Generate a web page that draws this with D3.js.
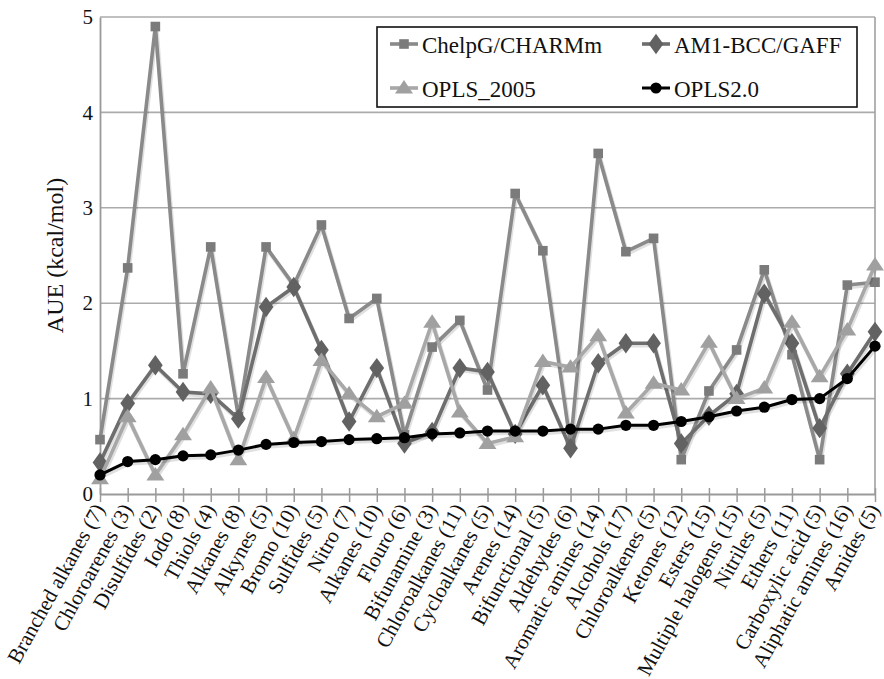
<!DOCTYPE html>
<html>
<head>
<meta charset="utf-8">
<script src="https://cdn.jsdelivr.net/npm/d3@7/dist/d3.min.js"></script>
<style>
  html, body { margin: 0; padding: 0; background: #fff; }
  svg { display: block; }
</style>
</head>
<body>
<svg id="chart" width="884" height="679" font-family="Liberation Serif" style="font-family: 'Liberation Serif'"></svg>
<script>
// Functional groups (number of compounds in parentheses)
const categories = [
  "Branched alkanes (7)", "Chloroarenes (3)", "Disulfides (2)", "Iodo (8)", "Thiols (4)",
  "Alkanes (8)", "Alkynes (5)", "Bromo (10)", "Sulfides (5)", "Nitro (7)",
  "Alkanes (10)", "Flouro (6)", "Bifunamine (3)", "Chloroalkanes (11)", "Cycloalkanes (5)",
  "Arenes (14)", "Bifunctional (5)", "Aldehydes (6)", "Aromatic amines (14)", "Alcohols (17)",
  "Chloroalkenes (5)", "Ketones (12)", "Esters (15)", "Multiple halogens (15)", "Nitriles (5)",
  "Ethers (11)", "Carboxylic acid (5)", "Aliphatic amines (16)", "Amides (5)"
];

// Average unsigned error (kcal/mol) per force field
const chelpgCharmm = [0.57, 2.37, 4.90, 1.26, 2.59, 0.81, 2.59, 2.19, 2.82, 1.84,
                      2.05, 0.62, 1.54, 1.82, 1.09, 3.15, 2.55, 0.52, 3.57, 2.54,
                      2.68, 0.36, 1.08, 1.51, 2.35, 1.46, 0.36, 2.19, 2.22];
const am1BccGaff   = [0.33, 0.95, 1.35, 1.07, 1.05, 0.79, 1.96, 2.17, 1.51, 0.76,
                      1.32, 0.53, 0.65, 1.32, 1.28, 0.63, 1.14, 0.48, 1.37, 1.58,
                      1.58, 0.53, 0.82, 1.05, 2.10, 1.58, 0.69, 1.26, 1.70];
const opls2005     = [0.16, 0.81, 0.20, 0.62, 1.11, 0.36, 1.22, 0.58, 1.40, 1.05,
                      0.81, 0.95, 1.80, 0.86, 0.53, 0.60, 1.39, 1.33, 1.66, 0.85,
                      1.16, 1.09, 1.59, 1.00, 1.11, 1.80, 1.23, 1.72, 2.40];
const opls20       = [0.20, 0.34, 0.36, 0.40, 0.41, 0.46, 0.52, 0.54, 0.55, 0.57,
                      0.58, 0.59, 0.63, 0.64, 0.66, 0.66, 0.66, 0.68, 0.68, 0.72,
                      0.72, 0.76, 0.81, 0.87, 0.91, 0.99, 1.00, 1.21, 1.55];

const yTicks = [0, 1, 2, 3, 4, 5];
const yLabel = "AUE (kcal/mol)";

const series = [
  { name: "ChelpG/CHARMm", values: chelpgCharmm, line: "#8a8a8a", fill: "#7b7b7b", shape: "square" },
  { name: "AM1-BCC/GAFF",  values: am1BccGaff,   line: "#6e6e6e", fill: "#626262", shape: "diamond" },
  { name: "OPLS_2005",     values: opls2005,     line: "#a8a8a8", fill: "#a0a0a0", shape: "triangle" },
  { name: "OPLS2.0",       values: opls20,       line: "#000000", fill: "#000000", shape: "circle" }
];

const SERIF = "Liberation Serif";
const svg = d3.select("#chart");
const plotLeft = 100, plotRight = 875, plotTop = 17, plotBottom = 494;

const x = d3.scalePoint().domain(categories).range([plotLeft, plotRight]);
const y = d3.scaleLinear().domain([0, 5]).range([plotBottom, plotTop]);

// set the serif face on a text selection (attribute and inline style)
function serif(sel, size) {
  sel.attr("font-family", SERIF).attr("font-size", size)
     .style("font-family", `"${SERIF}"`).style("font-size", size + "px");
  return sel;
}

// horizontal gridlines
svg.append("g").selectAll("line")
  .data(yTicks.filter(t => t > 0))
  .join("line")
  .attr("x1", plotLeft).attr("x2", plotRight)
  .attr("y1", d => y(d)).attr("y2", d => y(d))
  .attr("stroke", "#ababab").attr("stroke-width", 1.6);

// right frame edge
svg.append("line")
  .attr("x1", plotRight).attr("x2", plotRight).attr("y1", plotTop).attr("y2", plotBottom)
  .attr("stroke", "#a0a0a0").attr("stroke-width", 1.6);

// y axis
const yAxis = svg.append("g")
  .attr("transform", `translate(${plotLeft},0)`)
  .call(d3.axisLeft(y).tickValues(yTicks).tickFormat(d3.format("d")).tickSize(0).tickPadding(7));
yAxis.attr("font-family", SERIF).attr("font-size", 21);
yAxis.select(".domain").attr("stroke", "#9a9a9a").attr("stroke-width", 1.8);
serif(yAxis.selectAll("text"), 21).attr("fill", "#111");

// x axis
const xAxis = svg.append("g")
  .attr("transform", `translate(0,${plotBottom})`)
  .call(d3.axisBottom(x).tickSize(8).tickSizeOuter(0));
xAxis.attr("font-family", SERIF).attr("font-size", 21);
xAxis.select(".domain").attr("stroke", "#9a9a9a").attr("stroke-width", 1.8);
xAxis.selectAll(".tick line").attr("y1", -6).attr("stroke", "#9a9a9a").attr("stroke-width", 1.5);
serif(xAxis.selectAll(".tick text"), 21)
  .attr("fill", "#111")
  .attr("text-anchor", "end")
  .attr("x", 0).attr("y", 0).attr("dy", 0)
  .attr("transform", "translate(5,15) rotate(-61)");

// y axis title
serif(svg.append("text"), 24)
  .attr("transform", `translate(63,${(plotTop + plotBottom) / 2}) rotate(-90)`)
  .attr("text-anchor", "middle")
  .attr("fill", "#111")
  .text(yLabel);

// marker shapes
function marker(sel, s) {
  if (s.shape === "circle") {
    sel.append("circle").attr("r", 5.6).attr("fill", s.fill);
  } else if (s.shape === "square") {
    sel.append("rect").attr("x", -4.8).attr("y", -4.8).attr("width", 9.6).attr("height", 9.6)
      .attr("fill", s.fill);
  } else if (s.shape === "diamond") {
    sel.append("path").attr("d", d3.symbol(d3.symbolDiamond, 120)()).attr("fill", s.fill)
      .attr("transform", "scale(1.25,1)");
  } else {
    sel.append("path").attr("d", d3.symbol(d3.symbolTriangle, 105)()).attr("fill", s.fill)
      .attr("transform", "translate(0,1) scale(1.15,1)");
  }
}

const line = d3.line().x((d, i) => x(categories[i])).y(d => y(d));

series.forEach(s => {
  const g = svg.append("g");
  // faint offset copy of the line as a shadow
  g.append("path")
    .attr("d", line(s.values))
    .attr("transform", "translate(1,2)")
    .attr("fill", "none")
    .attr("stroke", "#000").attr("stroke-opacity", 0.12)
    .attr("stroke-width", 4.5)
    .attr("stroke-linejoin", "round");
  g.append("path")
    .attr("d", line(s.values))
    .attr("fill", "none")
    .attr("stroke", s.line)
    .attr("stroke-width", s.shape === "circle" ? 3 : 3.6)
    .attr("stroke-linejoin", "round");
  g.selectAll("g.pt")
    .data(s.values)
    .join("g")
    .attr("class", "pt")
    .attr("transform", (d, i) => `translate(${x(categories[i])},${y(d)})`)
    .each(function () { marker(d3.select(this), s); });
});

// legend
const lg = svg.append("g");
lg.append("rect")
  .attr("x", 377).attr("y", 27).attr("width", 480).attr("height", 80)
  .attr("fill", "#fff").attr("stroke", "#111").attr("stroke-width", 1.6);

const legendPos = [
  { x: 390, y: 44 }, { x: 642, y: 44 },
  { x: 390, y: 88 }, { x: 642, y: 88 }
];
series.forEach((s, i) => {
  const p = legendPos[i];
  const item = lg.append("g").attr("transform", `translate(${p.x},${p.y})`);
  item.append("line").attr("x1", 0).attr("x2", 28).attr("y1", 0).attr("y2", 0)
    .attr("stroke", s.line).attr("stroke-width", s.shape === "circle" ? 3 : 3.6);
  const m = item.append("g").attr("transform", "translate(14,0)");
  marker(m, s);
  serif(item.append("text"), 23)
    .attr("x", 32).attr("y", 9)
    .attr("fill", "#111")
    .text(s.name);
});
</script>
</body>
</html>
